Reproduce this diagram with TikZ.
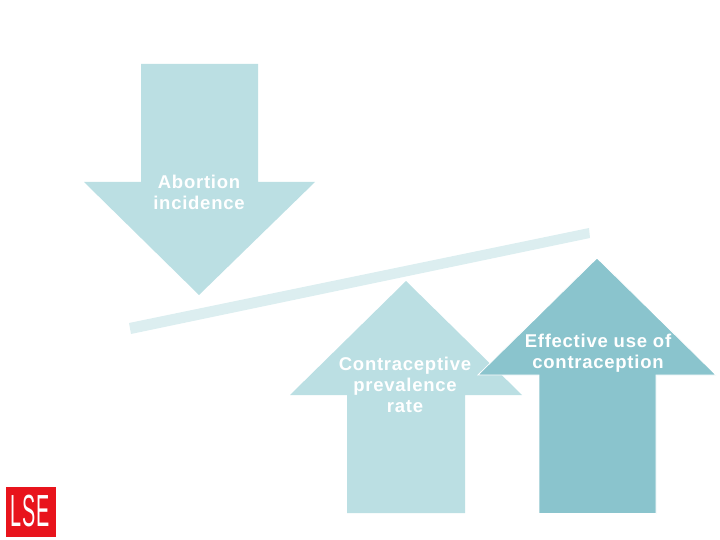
\documentclass[tikz,border=0pt]{standalone}
\usepackage{fontspec}
\setmainfont{Liberation Sans}
\newfontfamily\labelfont[LetterSpace=4]{Liberation Sans}
\newfontfamily\logofont[LetterSpace=4]{Liberation Sans}
\definecolor{lightteal}{HTML}{BBDFE3}
\definecolor{midteal}{HTML}{8AC4CD}
\definecolor{beamteal}{HTML}{DCEEF0}
\definecolor{lsered}{HTML}{E8141C}
\tikzset{
  arrowlabel/.style={text=white,align=center,font=\labelfont\bfseries\fontsize{18.5}{21}\selectfont,inner sep=0pt},
}
\begin{document}
\begin{tikzpicture}[x=1pt,y=-1pt]
\useasboundingbox (0,0) rectangle (720,540);
\fill[beamteal] (129,323) -- (589,228) -- (590,238) -- (131,334) -- cycle;
\fill[lightteal] (141,64) -- (258,64) -- (258,182) -- (315,182) -- (199,295) -- (84,182) -- (141,182) -- cycle;
\fill[lightteal] (406,281) -- (522,395) -- (465,395) -- (465,513) -- (347,513) -- (347,395) -- (290,395) -- cycle;
\filldraw[fill=midteal,draw=white,line width=0.8pt] (597,258) -- (716,375) -- (656,375) -- (656,513.5) -- (539,513.5) -- (539,375) -- (478,375) -- cycle;
\node[arrowlabel] (abortion) at (199,192.5) {Abortion\\incidence};
\node[arrowlabel] (prevalence) at (405,385) {Contraceptive\\prevalence\\rate};
\node[arrowlabel] (effective) at (598,353.5) {Effective use of\\contraception};
\fill[lsered] (6,487) rectangle (56,537);
\node[text=white,inner sep=0pt,xscale=0.44,font=\logofont\fontsize{45}{45}\selectfont] (logo) at (30,511) {LSE};
\end{tikzpicture}
\end{document}
